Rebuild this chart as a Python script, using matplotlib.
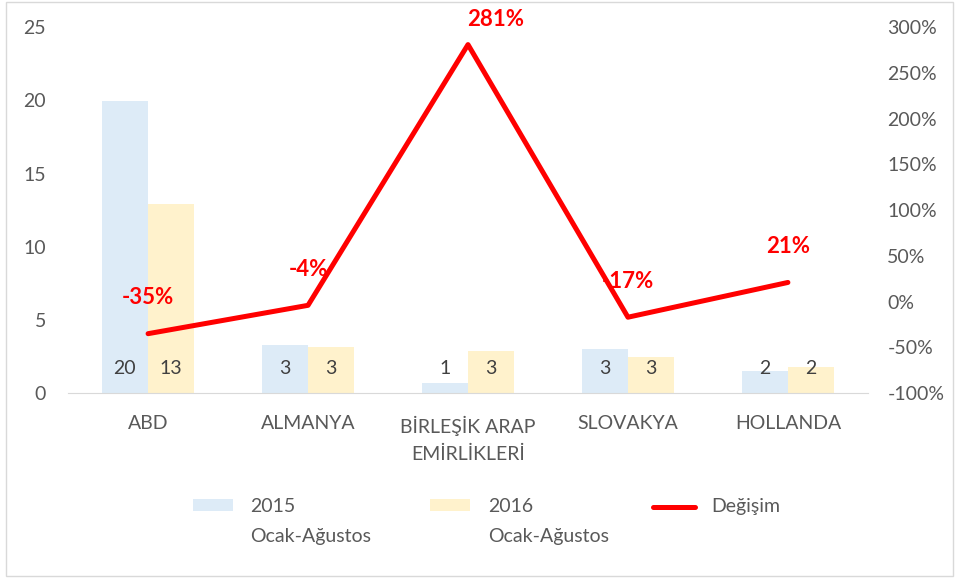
import matplotlib.pyplot as plt
import numpy as np
from matplotlib.patches import Rectangle
from matplotlib.lines import Line2D

plt.rcParams['font.family'] = ['Lato', 'DejaVu Sans']

categories = ['ABD', 'ALMANYA', 'BİRLEŞİK ARAP\nEMİRLİKLERİ', 'SLOVAKYA', 'HOLLANDA']
v2015 = [19.95, 3.3, 0.7, 3.0, 1.5]
v2016 = [12.9, 3.15, 2.87, 2.47, 1.8]
labels2015 = ['20', '3', '1', '3', '2']
labels2016 = ['13', '3', '3', '3', '2']
change = [-35, -4, 281, -17, 21]
change_labels = ['-35%', '-4%', '281%', '-17%', '21%']
legend_names = ['2015\nOcak-Ağustos', '2016\nOcak-Ağustos', 'Değişim']

grey = '#595959'
blue = '#DDEBF7'
yellow = '#FFF2CC'
red = '#FF0000'

fig = plt.figure(figsize=(9.59, 5.79), dpi=100)
ax = fig.add_axes([0.071, 0.321, 0.834, 0.632])
ax2 = ax.twinx()

x = np.arange(len(categories))
w = 0.29
ax.bar(x - w / 2, v2015, w, color=blue, zorder=1)
ax.bar(x + w / 2, v2016, w, color=yellow, zorder=1)
for i in range(len(x)):
    ax.text(x[i] - w / 2, 1.7, labels2015[i], ha='center', va='center', color='#404040', fontsize=14)
    ax.text(x[i] + w / 2, 1.7, labels2016[i], ha='center', va='center', color='#404040', fontsize=14)

ax2.plot(x, change, color=red, lw=3.6, solid_capstyle='round', zorder=3)
for i in range(len(x)):
    if i == 2:
        off = (20, 18)
    else:
        off = (0, 26)
    ax2.annotate(change_labels[i], (x[i], change[i]), xytext=off, textcoords='offset points',
                 ha='center', va='center', color=red, fontsize=16, fontweight='bold')

ax.set_xlim(-0.5, 4.5)
ax.set_ylim(0, 25)
ax.set_yticks(range(0, 26, 5))
ax2.set_ylim(-100, 300)
ax2.set_yticks(range(-100, 301, 50))
ax2.set_yticklabels([f'{t}%' for t in range(-100, 301, 50)])
ax.set_xticks(x)
ax.set_xticklabels(categories, linespacing=1.75)

for a in (ax, ax2):
    for s in a.spines.values():
        s.set_visible(False)
    a.tick_params(length=0, colors=grey, labelsize=14)
ax.spines['bottom'].set_visible(True)
ax.spines['bottom'].set_color('#D9D9D9')
ax.tick_params(axis='y', pad=16)
ax2.tick_params(axis='y', pad=14)
ax.tick_params(axis='x', pad=16)
ax.set_zorder(ax2.get_zorder() - 1)
ax.patch.set_visible(False)
ax2.patch.set_visible(False)

# legend at the bottom, drawn by hand so the key sits on the first text line
W, H = 959, 579
def fx(px):
    return px / W
def fy(py):
    return 1 - py / H

fig.patches.append(Rectangle((fx(193), fy(511)), fx(40), 12 / H, transform=fig.transFigure,
                             facecolor=blue, edgecolor='none'))
fig.patches.append(Rectangle((fx(430), fy(511)), fx(40), 12 / H, transform=fig.transFigure,
                             facecolor=yellow, edgecolor='none'))
fig.lines.append(Line2D([fx(653), fx(695)], [fy(507), fy(507)], transform=fig.transFigure,
                        color=red, lw=3.6, solid_capstyle='round'))
for px, name in zip([250, 488, 711], legend_names):
    fig.text(fx(px), fy(498), name, ha='left', va='top', color=grey, fontsize=14,
             linespacing=1.95, transform=fig.transFigure)

fig.patches.append(Rectangle((0.006, 0.006), 0.988, 0.99, transform=fig.transFigure,
                             fill=False, edgecolor='#D9D9D9', lw=1))
fig.savefig('out.png', dpi=100)
